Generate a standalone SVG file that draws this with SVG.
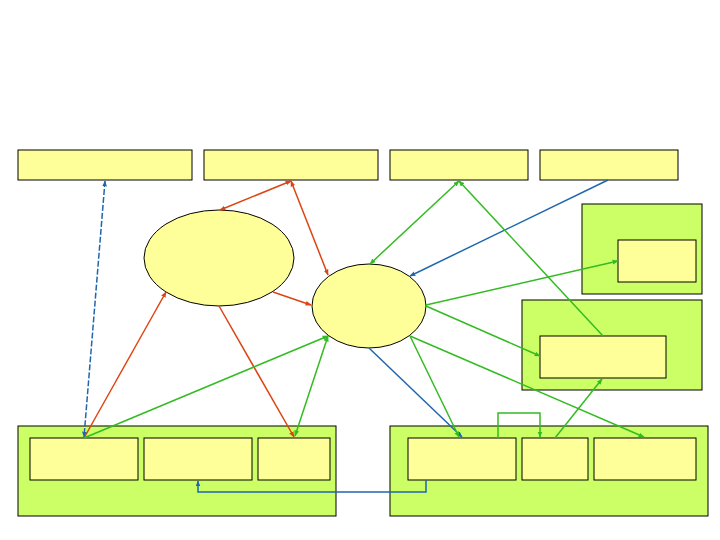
<svg xmlns="http://www.w3.org/2000/svg" width="720" height="540" viewBox="0 0 720 540">
<style>
.box{fill:#ffff99;stroke:#000;stroke-width:1}
.grp{fill:#ccff66;stroke:#000;stroke-width:1}
.c{fill:none;stroke-width:1.5}
.r{stroke:#dd4411}
.b{stroke:#1f66b0}
.g{stroke:#33bb22}
</style>
<defs>
<marker id="ar" viewBox="0 0 10 10" refX="9" refY="5" markerWidth="6" markerHeight="6" markerUnits="userSpaceOnUse" orient="auto-start-reverse"><path d="M0,1 L10,5 L0,9 Z" fill="#dd4411"/></marker>
<marker id="ab" viewBox="0 0 10 10" refX="9" refY="5" markerWidth="6" markerHeight="6" markerUnits="userSpaceOnUse" orient="auto-start-reverse"><path d="M0,1 L10,5 L0,9 Z" fill="#1f66b0"/></marker>
<marker id="ag" viewBox="0 0 10 10" refX="9" refY="5" markerWidth="6" markerHeight="6" markerUnits="userSpaceOnUse" orient="auto-start-reverse"><path d="M0,1 L10,5 L0,9 Z" fill="#33bb22"/></marker>
</defs>
<rect width="720" height="540" fill="#fff"/>
<g id="top1"><rect class="box" x="18" y="150" width="174" height="30"/></g>
<g id="top2"><rect class="box" x="204" y="150" width="174" height="30"/></g>
<g id="top3"><rect class="box" x="390" y="150" width="138" height="30"/></g>
<g id="top4"><rect class="box" x="540" y="150" width="138" height="30"/></g>
<g id="grpRightTop"><rect class="grp" x="582" y="204" width="120" height="90"/></g>
<g id="rt1"><rect class="box" x="618" y="240" width="78" height="42"/></g>
<g id="grpRightMid"><rect class="grp" x="522" y="300" width="180" height="90"/></g>
<g id="rm1"><rect class="box" x="540" y="336" width="126" height="42"/></g>
<g id="grpBottomLeft"><rect class="grp" x="18" y="426" width="318" height="90"/></g>
<g id="bl1"><rect class="box" x="30" y="438" width="108" height="42"/></g>
<g id="bl2"><rect class="box" x="144" y="438" width="108" height="42"/></g>
<g id="bl3"><rect class="box" x="258" y="438" width="72" height="42"/></g>
<g id="grpBottomRight"><rect class="grp" x="390" y="426" width="318" height="90"/></g>
<g id="br1"><rect class="box" x="408" y="438" width="108" height="42"/></g>
<g id="br2"><rect class="box" x="522" y="438" width="66" height="42"/></g>
<g id="br3"><rect class="box" x="594" y="438" width="102" height="42"/></g>
<g id="ell1"><ellipse class="box" cx="219" cy="258" rx="75" ry="48"/></g>
<g id="ell2"><ellipse class="box" cx="369" cy="306" rx="57" ry="42"/></g>
<g id="connectors">
<line class="c r" x1="291" y1="181" x2="220" y2="210" marker-start="url(#ar)" marker-end="url(#ar)"/>
<line class="c r" x1="291" y1="181" x2="328" y2="275" marker-start="url(#ar)" marker-end="url(#ar)"/>
<line class="c r" x1="273" y1="292" x2="311" y2="305" marker-end="url(#ar)"/>
<line class="c r" x1="84" y1="438" x2="166" y2="292" marker-end="url(#ar)"/>
<line class="c r" x1="219" y1="306" x2="294" y2="437" marker-end="url(#ar)"/>
<line class="c b" x1="105" y1="181" x2="84" y2="437" stroke-dasharray="6,2" marker-start="url(#ab)" marker-end="url(#ab)"/>
<line class="c b" x1="608" y1="180" x2="410" y2="276" marker-end="url(#ab)"/>
<line class="c b" x1="369" y1="348" x2="462" y2="437" marker-end="url(#ab)"/>
<polyline class="c b" points="426,480 426,492 198,492 198,481" marker-end="url(#ab)"/>
<line class="c g" x1="459" y1="181" x2="370" y2="264" marker-start="url(#ag)" marker-end="url(#ag)"/>
<line class="c g" x1="603" y1="336" x2="459" y2="181" marker-end="url(#ag)"/>
<line class="c g" x1="426" y1="305" x2="618" y2="261" marker-end="url(#ag)"/>
<line class="c g" x1="426" y1="306" x2="540" y2="356" marker-end="url(#ag)"/>
<line class="c g" x1="410" y1="336" x2="459" y2="437" marker-end="url(#ag)"/>
<line class="c g" x1="410" y1="336" x2="644" y2="437" marker-end="url(#ag)"/>
<line class="c g" x1="84" y1="438" x2="328" y2="336" marker-end="url(#ag)"/>
<line class="c g" x1="328" y1="336" x2="295" y2="436" marker-start="url(#ag)" marker-end="url(#ag)"/>
<polyline class="c g" points="498,438 498,413 540,413 540,437" marker-end="url(#ag)"/>
<line class="c g" x1="555" y1="438" x2="602" y2="379" marker-end="url(#ag)"/>
</g>
</svg>
